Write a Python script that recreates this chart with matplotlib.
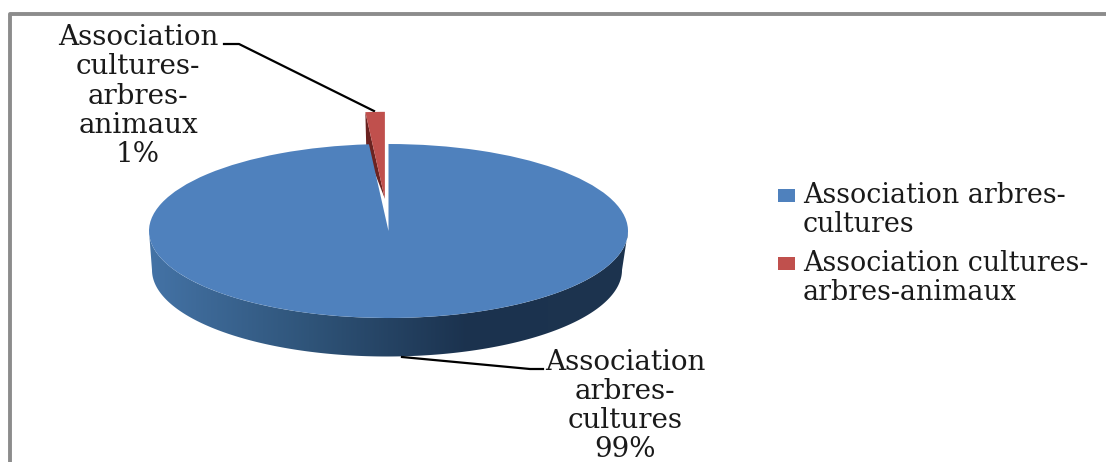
import matplotlib
matplotlib.use('Agg')
import matplotlib.pyplot as plt
import numpy as np
from matplotlib.patches import Polygon, Rectangle

# shares, labels are rounded to 99 / 1
categories = ['Association arbres-cultures', 'Association cultures-arbres-animaux']
shares = [98.7, 1.3]
colors = ['#4f81bd', '#c0504d']
label_texts = ['Association\narbres-\ncultures\n99%', 'Association\ncultures-\narbres-\nanimaux\n1%']
legend_texts = ['Association arbres-\ncultures', 'Association cultures-\narbres-animaux']

W, H = 1106, 462
FONT = 'DejaVu Serif'
FS = 20

# ellipse of the top face, in pixels
cx, cy, rx, ry = 388.5, 231, 239.5, 87
depth = 39
lift = 0.37  # explode of the small slice

fig = plt.figure(figsize=(W / 100, H / 100), dpi=100, facecolor='white')
ax = fig.add_axes([0, 0, 1, 1])
ax.set_xlim(0, W)
ax.set_ylim(H, 0)
ax.axis('off')

# outer frame, runs off the bottom and the right side
ax.plot([10, 10, W + 5], [H + 5, 14, 14], color='#8c8c8c', lw=2.8, clip_on=False)

# side wall of the disc, gradient clipped to the shape
t = np.linspace(0, np.pi, 200)
top_x = cx + rx * np.cos(t)
top_y = cy + ry * np.sin(t)
bot_x = cx - 1.5 + (rx - 4.5) * np.cos(t)
bot_y = cy + depth + (ry - 0.5) * np.sin(t)
wall = Polygon(np.r_[np.c_[top_x, top_y], np.c_[bot_x, bot_y][::-1]], closed=True, transform=ax.transData, fc='none', ec='none')
ax.add_patch(wall)
grad = np.linspace(0, 1, 256).reshape(1, -1)
cmap = matplotlib.colors.LinearSegmentedColormap.from_list('wall', ['#4473a6', '#2f5479', '#1b324e', '#1d344f'])
img = ax.imshow(grad, cmap=cmap, extent=(cx - rx, cx + rx, cy + depth + ry, cy), aspect='auto', zorder=1)
img.set_clip_path(wall)
ax.set_xlim(0, W)
ax.set_ylim(H, 0)

# cut face of the lifted slice, behind the pie axes
ang = np.radians(shares[1] / sum(shares) * 360)
lift_px = lift * ry
ax_x = cx - lift * np.sin(ang / 2) * rx
ax_y = cy - lift_px
rim_x = ax_x - rx * np.sin(ang)
rim_y = ax_y - ry * np.cos(ang)
ax.add_patch(Polygon([(rim_x, rim_y), (rim_x + 1, rim_y + depth), (ax_x, ax_y)], closed=True, fc='#6b2321', ec='none', zorder=2))

# the pie itself: unit circle stretched to the ellipse by the axes box
pie_ax = fig.add_axes([(cx - rx) / W, 1 - (cy + ry) / H, 2 * rx / W, 2 * ry / H])
pie_ax.pie(shares, colors=colors, startangle=90, counterclock=False, explode=[0, lift], radius=1)
pie_ax.set_aspect('auto')
pie_ax.set_xlim(-1, 1)
pie_ax.set_ylim(-1, 1)
pie_ax.axis('off')

# data labels and leader lines
ax.text(625, 406, label_texts[0], ha='center', va='center', family=FONT, fontsize=FS, color='#1a1a1a', linespacing=1.1)
ax.text(138, 96, label_texts[1], ha='center', va='center', family=FONT, fontsize=FS, color='#1a1a1a', linespacing=1.1)
ax.plot([402, 530, 543], [357, 369, 369], color='black', lw=1.6)
ax.plot([224, 239, 374], [44, 44, 111], color='black', lw=1.6)

# legend drawn by hand to keep the two-line spacing of the source
leg_y = [195, 263]
for c, txt, y in zip(colors, legend_texts, leg_y):
    ax.add_patch(Rectangle((778, y - 6), 17, 13, fc=c, ec='none'))
    ax.text(803, y - 13, txt, ha='left', va='top', family=FONT, fontsize=19.4, color='#1a1a1a', linespacing=1.1)

fig.savefig('out.png', dpi=100)
